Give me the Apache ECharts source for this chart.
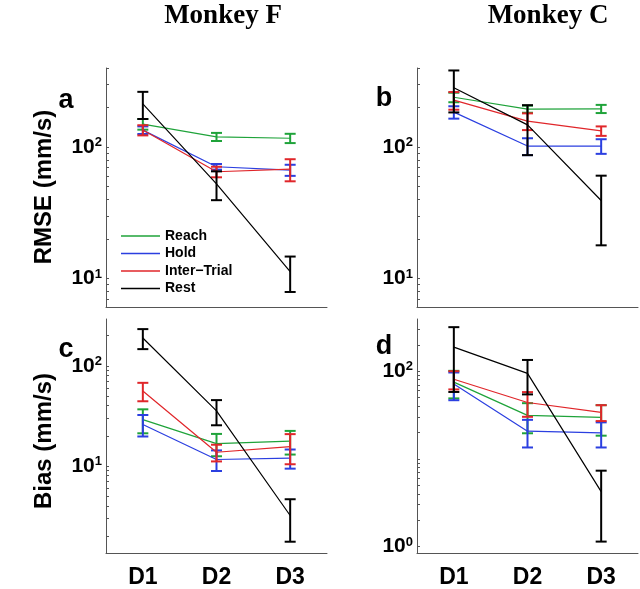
<!DOCTYPE html>
<html><head><meta charset="utf-8">
<script src="https://cdn.jsdelivr.net/npm/echarts@6/dist/echarts.min.js"></script>
<style>html,body{margin:0;padding:0;background:#fff}#c{width:640px;height:589px}</style>
</head><body><div id="c"></div>
<script>
// ---- data ----
const categories = ['D1', 'D2', 'D3'];
const seriesNames = ['Reach', 'Hold', 'Inter\u2212Trial', 'Rest'];

// Panel a: RMSE, Monkey F
const aReach = [150, 120, 117], aReachErr = [14, 8.5, 9.5];
const aHold  = [135, 71, 67],   aHoldErr  = [9, 3.5, 6.5];
const aInter = [135, 65, 68],   aInterErr = [12, 6, 13];
const aRest  = [214, 52.5, 11.3], aRestErr = [50, 13, 3.4];
// Panel b: RMSE, Monkey C
const bReach = [240, 195, 196], bReachErr = [20, 12, 14];
const bHold  = [185, 102, 102], bHoldErr  = [20, 15, 13];
const bInter = [228, 158, 133], bInterErr = [35, 23, 11];
const bRest  = [284, 148, 39.3], bRestErr = [100, 61, 21.4];
// Panel c: Bias, Monkey F
const cReach = [29, 16.7, 17.7], cReachErr = [7.8, 4.2, 4.7];
const cHold  = [26, 11.6, 12],   cHoldErr  = [6.3, 2.7, 2.6];
const cInter = [56, 13.7, 15.6], cInterErr = [11.7, 2.6, 5.2];
const cRest  = [190, 35.5, 3.2], cRestErr  = [43, 10, 1.45];
// Panel d: Bias, Monkey C
const dReach = [75, 31.4, 29.7], dReachErr = [26, 11.8, 11.3];
const dHold  = [71.7, 20.7, 19.8], dHoldErr = [25, 7.2, 6.3];
const dInter = [81, 44, 34],     dInterErr = [19, 13.8, 7];
const dRest  = [188, 94.4, 4.24], dRestErr = [130, 40, 3.1];

// axis ranges and ticks
const rangeAB = [6.07, 401];
const rangeC = [1.35, 294];
const rangeD = [0.845, 394];
const tickValsAB = [7, 8, 9, 10, 20, 30, 40, 50, 60, 70, 80, 90, 100, 200, 300, 400];
const tickValsC = [2, 3, 4, 5, 6, 7, 8, 9, 10, 20, 30, 40, 50, 60, 70, 80, 90, 100, 200];
const tickValsD = [1, 2, 3, 4, 5, 6, 7, 8, 9, 10, 20, 30, 40, 50, 60, 70, 80, 90, 100, 200, 300];
const labelValsAB = [10, 100];
const labelValsC = [10, 100];
const labelValsD = [1, 100];

// ---- style ----
const colors = ['#1fa33a', '#2b3fe0', '#e0262a', '#000000'];
const SANS = 'Liberation Sans, Arial, sans-serif';
const panels = [
  { means: [aReach, aHold, aInter, aRest], errs: [aReachErr, aHoldErr, aInterErr, aRestErr], range: rangeAB, ticks: tickValsAB, labels: labelValsAB, grid: { left: 106, top: 68, width: 221, height: 239 }, xLabels: false },
  { means: [bReach, bHold, bInter, bRest], errs: [bReachErr, bHoldErr, bInterErr, bRestErr], range: rangeAB, ticks: tickValsAB, labels: labelValsAB, grid: { left: 417, top: 68, width: 221, height: 239 }, xLabels: false },
  { means: [cReach, cHold, cInter, cRest], errs: [cReachErr, cHoldErr, cInterErr, cRestErr], range: rangeC, ticks: tickValsC, labels: labelValsC, grid: { left: 106, top: 319, width: 221, height: 238 }, xLabels: true },
  { means: [dReach, dHold, dInter, dRest], errs: [dReachErr, dHoldErr, dInterErr, dRestErr], range: rangeD, ticks: tickValsD, labels: labelValsD, grid: { left: 417, top: 319, width: 221, height: 237 }, xLabels: true }
];

const axisColor = '#555';
const grids = [], xAxes = [], yAxes = [], series = [];

function errRender(color) {
  return function (params, api) {
    const x = api.value(0), lo = api.value(1), hi = api.value(2);
    const p1 = api.coord([x, lo]), p2 = api.coord([x, hi]);
    const w = 5.5;
    const st = { stroke: color, lineWidth: 2 };
    return {
      type: 'group', children: [
        { type: 'line', shape: { x1: p1[0], y1: p1[1], x2: p2[0], y2: p2[1] }, style: st },
        { type: 'line', shape: { x1: p1[0] - w, y1: p1[1], x2: p1[0] + w, y2: p1[1] }, style: st },
        { type: 'line', shape: { x1: p2[0] - w, y1: p2[1], x2: p2[0] + w, y2: p2[1] }, style: st }
      ]
    };
  };
}

panels.forEach((p, i) => {
  grids.push(Object.assign({ containLabel: false }, p.grid));
  xAxes.push({
    type: 'category', gridIndex: i, data: categories, boundaryGap: true,
    axisLine: { lineStyle: { color: axisColor, width: 1 } },
    axisTick: { inside: true, length: 4, alignWithLabel: true, lineStyle: { color: axisColor } },
    axisLabel: { show: p.xLabels, margin: 13, fontFamily: SANS, fontWeight: 'bold', fontSize: 23, color: '#000' },
    splitLine: { show: false }
  });
  yAxes.push({
    type: 'log', logBase: 10, gridIndex: i, min: p.range[0], max: p.range[1],
    axisLine: { show: true, lineStyle: { color: axisColor, width: 1 } },
    axisTick: { show: true, inside: true, length: 3, customValues: p.ticks, lineStyle: { color: axisColor } },
    axisLabel: {
      show: true, margin: 4, customValues: p.labels,
      formatter: v => '{b|10}{s|' + Math.round(Math.log10(v)) + '}',
      rich: {
        b: { fontFamily: SANS, fontWeight: 'bold', fontSize: 21, lineHeight: 22, color: '#000' },
        s: { fontFamily: SANS, fontWeight: 'bold', fontSize: 13, lineHeight: 9, verticalAlign: 'top', color: '#000' }
      }
    },
    splitLine: { show: false }, minorTick: { show: false }
  });
  p.means.forEach((m, k) => {
    series.push({
      name: seriesNames[k], type: 'line', xAxisIndex: i, yAxisIndex: i,
      data: m, symbol: 'none', lineStyle: { color: colors[k], width: 1.2 },
      itemStyle: { color: colors[k] }, z: 2 + k, animation: false
    });
    const eb = m.map((v, j) => [j, v - p.errs[k][j], v + p.errs[k][j]]);
    series.push({
      name: seriesNames[k] + ' error', type: 'custom', xAxisIndex: i, yAxisIndex: i,
      data: eb, encode: { x: 0, y: [1, 2] }, renderItem: errRender(colors[k]),
      z: 2 + k, animation: false, silent: true
    });
  });
});

const txt = (x, y, text, font, rot) => ({
  type: 'text', x: x, y: y, rotation: rot || 0,
  style: { text: text, font: font, fill: '#000', align: 'center', verticalAlign: 'middle' }
});

const option = {
  backgroundColor: '#fff',
  animation: false,
  grid: grids, xAxis: xAxes, yAxis: yAxes, series: series,
  legend: {
    data: seriesNames.map((n, k) => ({ name: n, icon: 'rect', itemStyle: { color: colors[k] } })),
    orient: 'vertical', left: 121, top: 229,
    itemWidth: 39, itemHeight: 1.6, itemGap: 3.5, padding: 0,
    textStyle: { fontFamily: SANS, fontWeight: 'bold', fontSize: 14, lineHeight: 14, color: '#000' },
    selectedMode: false
  },
  graphic: [
    txt(223, 16, 'Monkey F', 'bold 27px "Liberation Serif", "Times New Roman", serif'),
    txt(548, 16, 'Monkey C', 'bold 27px "Liberation Serif", "Times New Roman", serif'),
    txt(66, 101, 'a', 'bold 27px ' + SANS),
    txt(384, 99, 'b', 'bold 27px ' + SANS),
    txt(66, 350, 'c', 'bold 27px ' + SANS),
    txt(384, 347, 'd', 'bold 27px ' + SANS),
    txt(44, 187, 'RMSE (mm/s)', 'bold 24px ' + SANS, Math.PI / 2),
    txt(44, 441, 'Bias (mm/s)', 'bold 24px ' + SANS, Math.PI / 2)
  ]
};

const chart = echarts.init(document.getElementById('c'), null, { renderer: 'canvas' });
chart.setOption(option);
</script>
</body></html>
